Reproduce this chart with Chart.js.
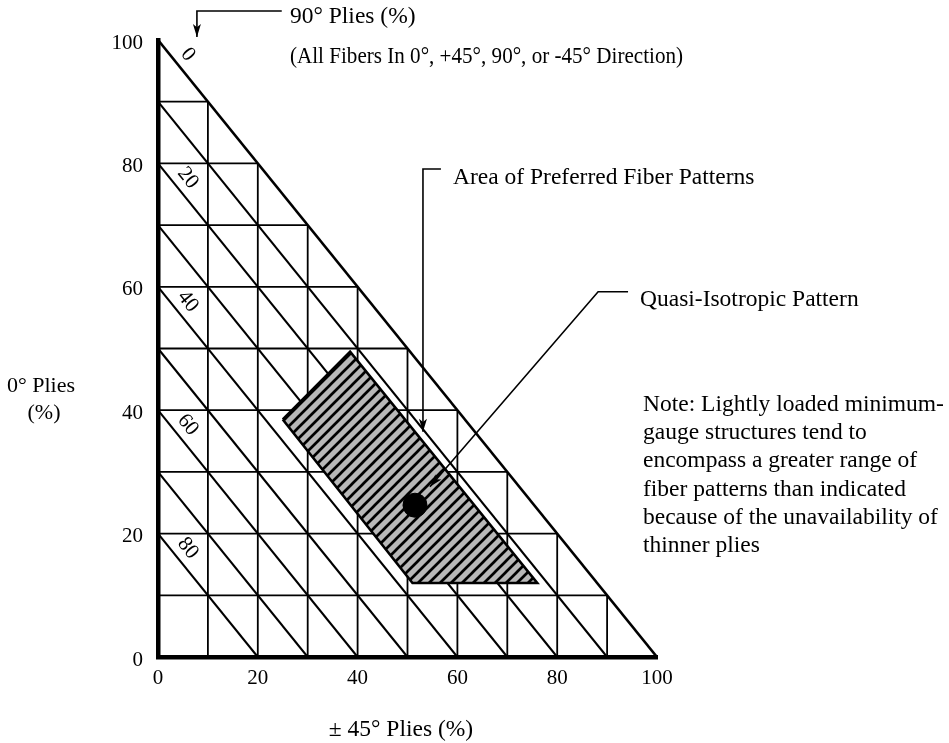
<!DOCTYPE html>
<html>
<head>
<meta charset="utf-8">
<script src="https://cdn.jsdelivr.net/npm/chart.js@4.4.1/dist/chart.umd.min.js"></script>
<style>
  body { margin: 0; background: #fff; }
  canvas { display: block; }
</style>
</head>
<body>
<canvas id="plyChart" width="949" height="743"></canvas>
<script>
// tick labels (%)
const xTicks = [0, 20, 40, 60, 80, 100];
const yTicks = [0, 20, 40, 60, 80, 100];
// square grid every 10 %
const gridSteps = [10, 20, 30, 40, 50, 60, 70, 80, 90];
// 90 deg ply contours (x + y = 100 - value)
const ninetyLines = [0, 10, 20, 30, 40, 50, 60, 70, 80];
const ninetyLabels = [0, 20, 40, 60, 80];
// area of preferred fiber patterns, outline (±45 %, 0 %)
const areaX = [25, 38.5, 76, 51, 25];
const areaY = [38.5, 49.5, 12, 12, 38.5];
// quasi-isotropic pattern
const quasiX = [51.5];
const quasiY = [24.6];

const FONT = '"Liberation Serif", "Times New Roman", serif';
const TICK_FS = 21;
const TEXT_FS = 23.5;

// callout leaders, in data units (last point = arrow tip)
const leaders = [
    [[24.8, 104.7], [7.8, 104.7], [7.8, 100.5]],
    [[56.7, 79.1], [53.1, 79.1], [53.1, 36.5]],
    [[94.2, 59.2], [88.2, 59.2], [54.5, 27.6]]
];

// free text, in pixels
const texts = [
    { t: '90\u00b0 Plies (%)', x: 290, y: 23 },
    { t: '(All Fibers In 0\u00b0, +45\u00b0, 90\u00b0, or -45\u00b0 Direction)', x: 290, y: 63, w: 393 },
    { t: 'Area of Preferred Fiber Patterns', x: 453, y: 184 },
    { t: 'Quasi-Isotropic Pattern', x: 640, y: 306 },
    { t: 'Note: Lightly loaded minimum-', x: 643, y: 411 },
    { t: 'gauge structures tend to', x: 643, y: 439 },
    { t: 'encompass a greater range of', x: 643, y: 467 },
    { t: 'fiber patterns than indicated', x: 643, y: 496 },
    { t: 'because of the unavailability of', x: 643, y: 524 },
    { t: 'thinner plies', x: 643, y: 552 },
    { t: '0\u00b0 Plies', x: 41, y: 392, align: 'center', fs: 22 },
    { t: '(%)', x: 44, y: 419, align: 'center', fs: 22 },
    { t: '\u00b1 45\u00b0 Plies (%)', x: 401, y: 736, align: 'center' }
];

function makeHatch() {
    const s = 11;
    const c = document.createElement('canvas');
    c.width = s;
    c.height = s;
    const g = c.getContext('2d');
    g.fillStyle = '#b8b8b8';
    g.fillRect(0, 0, s, s);
    g.strokeStyle = '#000';
    g.lineWidth = 2.7;
    g.beginPath();
    g.moveTo(-1, s + 1); g.lineTo(s + 1, -1);
    g.moveTo(-2, 2); g.lineTo(2, -2);
    g.moveTo(s - 2, s + 2); g.lineTo(s + 2, s - 2);
    g.stroke();
    return g.createPattern(c, 'repeat');
}

function seg(points, width, order, extra) {
    return Object.assign({
        type: 'line',
        data: points.map(p => ({ x: p[0], y: p[1] })),
        borderColor: '#000',
        borderWidth: width,
        pointRadius: 0,
        fill: false,
        tension: 0,
        order: order
    }, extra || {});
}

const datasets = [];

// grid clipped to the triangle
gridSteps.forEach(v => {
    datasets.push(seg([[v, 0], [v, 100 - v]], 1.8, 10));
    datasets.push(seg([[0, v], [100 - v, v]], 1.8, 10));
});
ninetyLines.forEach(n => {
    const s = 100 - n;
    datasets.push(seg([[0, s], [s, 0]], n === 0 ? 2.6 : 2.1, 9));
});

// preferred area
datasets.push({
    type: 'line',
    data: areaX.map((v, i) => ({ x: v, y: areaY[i] })),
    borderColor: '#000',
    borderWidth: 2.6,
    backgroundColor: makeHatch(),
    fill: 'shape',
    pointRadius: 0,
    tension: 0,
    order: 5
});

// quasi-isotropic point
datasets.push({
    type: 'scatter',
    data: quasiX.map((v, i) => ({ x: v, y: quasiY[i] })),
    backgroundColor: '#000',
    borderColor: '#000',
    pointRadius: 12,
    order: 2
});

leaders.forEach(l => datasets.push(seg(l, 1.6, 1, { clip: false })));

function arrowHead(ctx, from, tip) {
    const a = Math.atan2(tip.y - from.y, tip.x - from.x);
    const len = 13, hw = 4;
    ctx.save();
    ctx.translate(tip.x, tip.y);
    ctx.rotate(a);
    ctx.beginPath();
    ctx.moveTo(0, 0);
    ctx.lineTo(-len, -hw);
    ctx.lineTo(-len * 0.75, 0);
    ctx.lineTo(-len, hw);
    ctx.closePath();
    ctx.fillStyle = '#000';
    ctx.fill();
    ctx.restore();
}

const overlay = {
    id: 'overlay',
    afterDatasetsDraw(chart) {
        const { ctx } = chart;
        const xs = chart.scales.x, ys = chart.scales.y;
        const px = (x, y) => ({ x: xs.getPixelForValue(x), y: ys.getPixelForValue(y) });

        ctx.save();
        // arrow heads
        leaders.forEach(l => {
            const n = l.length;
            arrowHead(ctx, px(l[n - 2][0], l[n - 2][1]), px(l[n - 1][0], l[n - 1][1]));
        });

        // 90 deg labels along the contours
        const dxp = xs.getPixelForValue(10) - xs.getPixelForValue(0);
        const dyp = ys.getPixelForValue(0) - ys.getPixelForValue(10);
        const ang = Math.atan2(dyp, dxp);
        const nx = Math.sin(ang), ny = -Math.cos(ang);
        ctx.font = TICK_FS + 'px ' + FONT;
        ctx.fillStyle = '#000';
        ctx.textAlign = 'center';
        ctx.textBaseline = 'middle';
        ninetyLabels.forEach(n => {
            const s = 100 - n;
            const p = px(3.8, s - 3.8);
            ctx.save();
            ctx.translate(p.x + nx * 14, p.y + ny * 14);
            ctx.rotate(ang);
            ctx.fillText(String(n), 0, 0);
            ctx.restore();
        });

        // annotation text
        ctx.textBaseline = 'alphabetic';
        texts.forEach(o => {
            ctx.font = (o.fs || TEXT_FS) + 'px ' + FONT;
            ctx.textAlign = o.align || 'left';
            if (o.w) ctx.fillText(o.t, o.x, o.y, o.w);
            else ctx.fillText(o.t, o.x, o.y);
        });
        ctx.restore();
    }
};

new Chart(document.getElementById('plyChart'), {
    type: 'scatter',
    data: { datasets: datasets },
    options: {
        responsive: false,
        animation: false,
        events: [],
        layout: { padding: { top: 40, right: 292, left: 0, bottom: 0 } },
        plugins: { legend: { display: false }, tooltip: { enabled: false } },
        scales: {
            x: {
                type: 'linear',
                min: 0,
                max: 100,
                afterFit: s => { s.height = 86; },
                afterBuildTicks: s => { s.ticks = xTicks.map(v => ({ value: v })); },
                grid: { display: false },
                border: { display: true, color: '#000', width: 4.5 },
                ticks: { color: '#000', padding: 1, font: { family: FONT, size: TICK_FS } }
            },
            y: {
                type: 'linear',
                min: 0,
                max: 100,
                afterFit: s => { s.width = 158; },
                afterBuildTicks: s => { s.ticks = yTicks.map(v => ({ value: v })); },
                grid: { display: false },
                border: { display: true, color: '#000', width: 4.5 },
                ticks: { color: '#000', padding: 7, labelOffset: 3, font: { family: FONT, size: TICK_FS } }
            }
        }
    },
    plugins: [overlay]
});
</script>
</body>
</html>
